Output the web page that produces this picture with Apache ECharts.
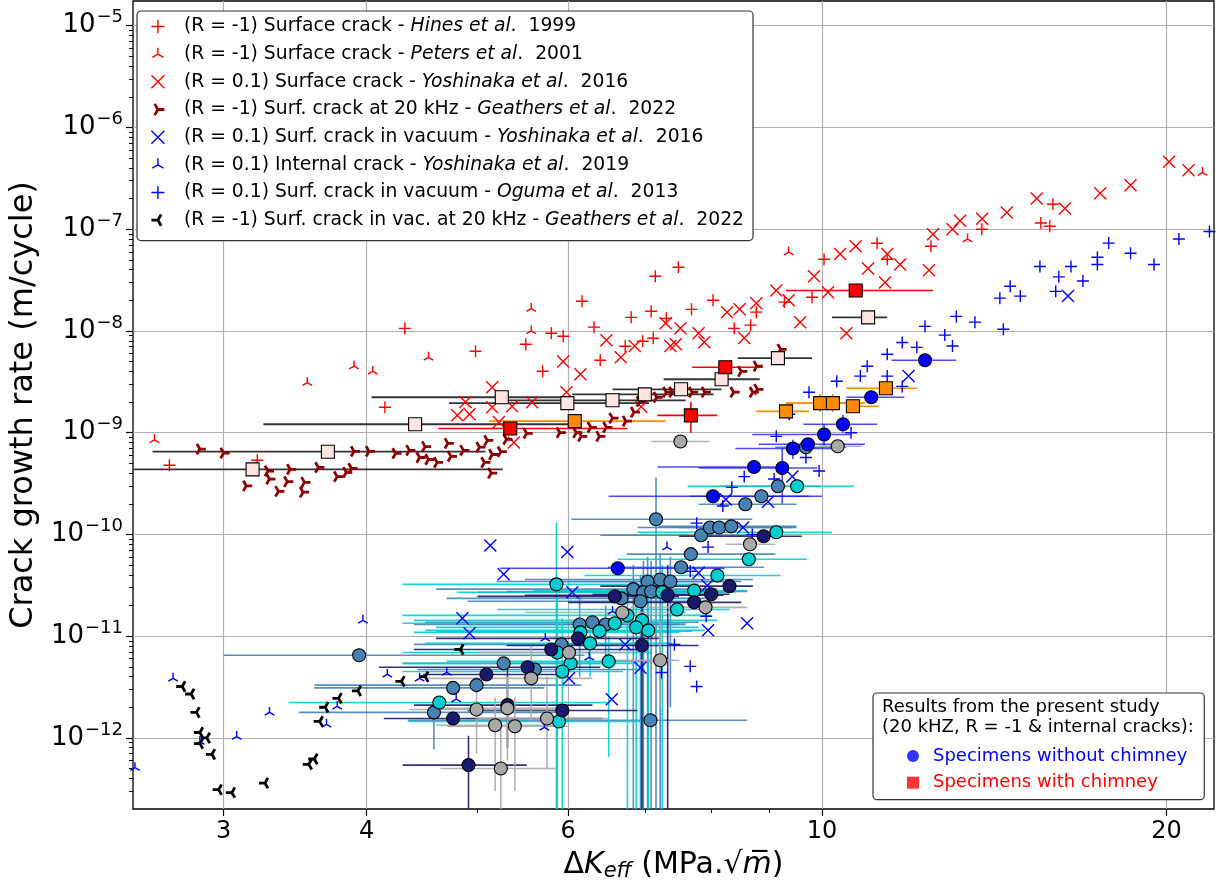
<!DOCTYPE html>
<html><head><meta charset="utf-8">
<script src="https://cdn.jsdelivr.net/npm/echarts@6/dist/echarts.min.js"></script>
<style>html,body{margin:0;padding:0;background:#fff}#c{width:1221px;height:888px}</style>
</head><body><div id="c"></div>
<script>
// ---------------- axis ranges / ticks ----------------
const X_MIN = 2.5, X_MAX = 22, Y_MIN = 2e-13, Y_MAX = 1.75e-5;
const xMajorTicks = [3, 4, 6, 10, 20];
const xMinorTicks = [5, 7, 8, 9];
const yMajorTicks = [1e-12, 1e-11, 1e-10, 1e-9, 1e-8, 1e-7, 1e-6, 1e-5];

// ---------------- literature data [dK, da/dN] ----------------
const hines1999 = [[2.69,4.78e-10],[3.21,5.35e-10],[4.15,1.78e-9],[4.32,1.06e-8],[4.98,6.32e-9],[5.51,7.4e-9],[5.7,4.01e-9],[5.8,9.49e-9],[5.94,8.87e-9],[6.17,1.96e-8],[6.32,1.09e-8],[6.4,5.15e-9],[6.73,7.07e-9],[6.81,1.36e-8],[6.97,7.92e-9],[7.09,1.56e-8],[7.12,8.48e-9],[7.15,3.45e-8],[7.31,1.33e-8],[7.49,4.23e-8],[7.69,1.63e-8],[8.03,2.0e-8],[8.38,1.06e-8],[8.66,1.14e-8],[8.76,1.53e-8],[9.27,1.92e-8],[9.8,2.14e-8],[10.04,5.07e-8],[11.17,7.28e-8],[11.4,5.07e-8],[12.45,6.81e-8],[13.79,1.0e-7],[15.53,1.15e-7],[15.81,1.07e-7],[15.91,1.76e-7]];
const peters2001 = [[2.61,8.5e-10],[3.55,3.1e-9],[3.9,4.5e-9],[4.05,4.0e-9],[4.53,5.5e-9],[5.57,1.66e-8],[5.57,1.0e-8],[9.35,5.95e-8],[13.4,8.0e-8],[21.5,3.6e-7]];
const yoshinaka2016 = [[5.15,2.8e-9],[4.88,2.0e-9],[4.8,1.48e-9],[4.92,1.52e-9],[5.15,1.78e-9],[5.22,1.27e-9],[5.36,1.82e-9],[5.58,1.99e-9],[5.98,2.5e-9],[5.94,5.0e-9],[6.15,3.75e-9],[6.48,8.1e-9],[6.67,5.5e-9],[6.86,7.1e-9],[6.95,1.8e-9],[7.3,1.19e-8],[7.37,7.1e-9],[7.45,7.4e-9],[7.52,1.06e-8],[7.8,9.5e-9],[7.89,7.75e-9],[8.26,1.53e-8],[8.47,1.63e-8],[8.55,8.5e-9],[8.76,1.87e-8],[9.12,2.5e-8],[9.35,2.0e-8],[9.57,1.22e-8],[9.84,3.45e-8],[10.12,2.4e-8],[10.37,5.7e-8],[10.7,6.8e-8],[10.97,4.1e-8],[11.35,3.0e-8],[11.4,5.7e-8],[10.5,9.5e-9],[5.38,8.0e-10],[12.5,8.9e-8],[13.0,1.0e-7],[13.2,1.21e-7],[13.8,1.27e-7],[14.5,1.46e-7],[15.4,2.0e-7],[16.3,1.6e-7],[17.5,2.26e-7],[18.6,2.7e-7],[20.1,4.6e-7],[20.9,3.8e-7],[11.7,4.5e-8],[12.4,3.95e-8]];
const geathers2022 = [[2.86,6.9e-10],[3.0,6.3e-10],[3.14,3.0e-10],[3.28,4.2e-10],[3.29,3.5e-10],[3.35,2.65e-10],[3.41,3.3e-10],[3.43,4.36e-10],[3.53,3.25e-10],[3.52,2.6e-10],[3.63,4.55e-10],[3.77,3.7e-10],[3.84,4.08e-10],[3.88,4.45e-10],[3.9,6.55e-10],[4.02,6.55e-10],[4.24,6.25e-10],[4.36,6.7e-10],[4.45,5.7e-10],[4.5,7.3e-10],[4.53,5.45e-10],[4.61,5.1e-10],[4.71,7.85e-10],[4.74,5.85e-10],[4.86,6.7e-10],[5.02,7.2e-10],[5.1,8.4e-10],[5.07,5.1e-10],[5.15,6.1e-10],[5.14,4.0e-10],[5.24,6.5e-10],[5.3,8.6e-10],[5.52,9.85e-10],[5.9,1.0e-9],[6.1,1.0e-9],[6.16,9.2e-10],[6.28,1.13e-9],[6.39,9.2e-10],[6.48,1.13e-9],[6.56,1.39e-9],[6.74,1.3e-9],[6.85,1.59e-9],[6.93,2.03e-9],[7.17,2.23e-9],[7.31,2.5e-9],[7.4,2.5e-9],[7.7,2.5e-9],[7.9,2.5e-9],[8.37,2.5e-9],[8.5,4.0e-9],[8.77,4.5e-9],[8.7,2.5e-9],[8.78,2.67e-9],[9.2,6.6e-9]];
const yoshinaka2016vac = [[5.13,7.8e-11],[5.99,6.7e-11],[5.27,4.05e-11],[6.05,2.7e-11],[4.85,1.5e-11],[4.92,1.07e-11],[6.73,8.3e-12],[6.01,3.85e-12],[6.55,2.4e-12],[6.94,4.9e-12],[9.42,3.7e-10],[8.97,2.1e-10],[8.24,2.2e-10],[8.53,1.17e-10],[7.8,4.2e-11],[7.94,3.15e-11],[8.6,1.34e-11],[7.95,1.14e-11],[16.4,2.2e-8],[11.9,3.6e-9]];
const yoshinaka2019 = [[3.97,1.43e-11],[2.71,3.85e-12],[3.29,1.78e-12],[3.08,1.03e-12],[2.86,9.2e-13],[2.51,5.1e-13],[4.17,4.2e-12],[4.45,3.85e-12],[3.77,2.04e-12],[3.69,1.36e-12],[7.32,7.5e-11],[4.7,4.4e-12],[4.79,2.4e-12],[5.72,1.27e-12],[6.26,6.2e-12],[5.73,9.5e-12],[6.56,1.75e-11]];
const oguma2013 = [[20.5,8.0e-8],[21.8,9.5e-8],[17.8,7.3e-8],[18.6,5.8e-8],[19.5,4.5e-8],[17.4,5.3e-8],[17.4,4.5e-8],[16.9,3.1e-8],[16.5,4.3e-8],[16.1,3.4e-8],[16.0,2.45e-8],[15.5,4.3e-8],[14.9,2.2e-8],[14.6,2.75e-8],[14.3,2.1e-8],[14.4,1.04e-8],[13.6,1.22e-8],[13.1,1.39e-8],[12.8,9.1e-9],[13.0,7.1e-9],[12.3,1.11e-8],[12.1,6.9e-9],[11.75,7.7e-9],[11.4,5.9e-9],[10.95,4.5e-9],[10.8,3.6e-9],[11.4,3.6e-9],[11.75,2.85e-9],[10.3,3.2e-9],[9.74,2.5e-9],[9.36,1.52e-9],[9.12,9.2e-10],[10.6,1.0e-9],[9.68,5.7e-10],[9.94,4.2e-10],[8.55,3.7e-10],[9.08,3.5e-10],[8.34,2.9e-10],[8.19,1.9e-10],[7.77,1.29e-10],[7.95,7.5e-11],[8.69,1.0e-10],[7.67,4.35e-11],[7.92,1.57e-11],[7.43,8.3e-12],[7.67,5.05e-12],[7.24,4.4e-12],[7.77,3.2e-12]];
const geathers2022vac = [[2.76,3.2e-12],[2.81,2.7e-12],[2.84,1.78e-12],[2.86,1.13e-12],[2.9,1.0e-12],[2.86,8.8e-13],[2.93,6.9e-13],[2.97,3.1e-13],[3.05,2.9e-13],[3.26,3.6e-13],[3.56,5.5e-13],[3.6,6.2e-13],[3.64,1.45e-12],[3.68,2.0e-12],[3.78,2.45e-12],[3.93,2.9e-12],[4.29,3.6e-12],[4.5,4.0e-12],[4.83,7.4e-12]];

// ---------------- present study [dK, da/dN, dKlow, dKhigh, dadNlow, dadNhigh] ----------------
const presentBlue = [[12.3,5.15e-9,11.5,13.1,5.15e-9,5.15e-9],[11.04,2.23e-9,10.5,11.8,2.23e-9,2.23e-9],[10.43,1.21e-9,9.63,11.17,1.0e-9,1.5e-9],[10.04,9.6e-10,8.69,10.6,7.5e-10,1.2e-9],[9.72,7.7e-10,8.8,10.9,7.7e-10,7.7e-10],[9.43,7.0e-10,8.4,10.4,5.5e-10,8.5e-10],[8.72,4.6e-10,7.18,9.3,4.6e-10,4.6e-10],[9.23,4.5e-10,7.8,9.9,2.0e-10,7.0e-10],[8.03,2.37e-10,6.51,10.0,2.37e-10,2.37e-10],[6.63,4.65e-11,5.23,8.22,4.65e-11,4.65e-11]];
const presentSteel = [[9.68,7.2e-10,9.1,10.5,7.2e-10,7.2e-10],[9.15,2.97e-10,8.13,9.96,2.97e-10,2.97e-10],[8.85,2.37e-10,7.66,9.74,2.37e-10,2.37e-10],[8.57,1.98e-10,7.8,9.5,1.98e-10,1.98e-10],[7.16,1.41e-10,6.04,8.69,1e-14,3.6e-10],[7.84,9.8e-11,6.4,9.2,9.8e-11,9.8e-11],[7.98,1.17e-10,7.5,9.5,1.17e-10,1.17e-10],[8.13,1.17e-10,6.9,9.4,1.17e-10,1.17e-10],[8.33,1.2e-10,7.2,9.5,1.2e-10,1.2e-10],[7.68,6.4e-11,6.75,9.1,6.4e-11,6.4e-11],[7.53,4.75e-11,6.5,8.9,4.75e-11,4.75e-11],[7.04,3.45e-11,5.2,8.5,1e-14,6e-11],[7.22,3.6e-11,5.5,8.7,1e-14,6.5e-11],[7.37,3.45e-11,5.8,8.4,2e-12,6e-11],[6.84,2.9e-11,4.6,8.1,1e-14,5e-11],[6.98,2.7e-11,5.0,8.3,1e-14,5.5e-11],[7.09,2.75e-11,5.3,8.6,1e-14,5.5e-11],[6.94,2.2e-11,4.9,8.0,1e-14,4e-11],[6.68,2.35e-11,4.7,7.9,2.35e-11,2.35e-11],[6.14,1.3e-11,4.4,7.6,4e-12,2.5e-11],[6.3,1.37e-11,4.5,7.8,1.37e-11,1.37e-11],[6.47,1.3e-11,4.9,7.5,5e-12,2e-11],[5.92,8.3e-12,4.4,7.0,8.3e-12,8.3e-12],[5.27,5.4e-12,4.3,6.5,5.4e-12,5.4e-12],[5.61,4.7e-12,4.43,7.0,4.7e-12,4.7e-12],[4.99,3.3e-12,3.6,6.16,3.3e-12,3.3e-12],[4.76,3.1e-12,3.6,5.72,3.1e-12,3.1e-12],[4.58,1.78e-12,3.49,5.88,7.7e-13,2.2e-12],[7.08,1.49e-12,4.35,8.6,1.49e-12,1.49e-12],[3.94,6.5e-12,3.0,6.2,6.5e-12,6.5e-12]];
const presentTurq = [[9.51,2.97e-10,7.63,10.66,2.97e-10,2.97e-10],[9.12,1.05e-10,6.9,10.2,1.05e-10,1.05e-10],[8.63,5.7e-11,6.63,9.7,5.7e-11,5.7e-11],[8.1,3.95e-11,6.2,9.2,3.95e-11,3.95e-11],[7.73,2.8e-11,5.6,8.6,2.8e-11,2.8e-11],[7.25,2.7e-11,4.8,8.4,1e-14,5e-11],[7.47,1.83e-11,5.2,8.3,1.83e-11,1.83e-11],[6.76,1.6e-11,4.3,8.0,1e-14,3e-11],[6.96,1.43e-11,4.4,8.1,1e-14,3e-11],[6.88,1.22e-11,4.6,7.8,1e-14,2.5e-11],[7.05,1.14e-11,4.5,7.9,1e-14,2.5e-11],[6.59,1.34e-11,4.3,7.6,1.34e-11,1.34e-11],[5.86,3.23e-11,4.3,7.8,1e-14,1.3e-10],[6.15,1.09e-11,4.4,7.5,1.09e-11,1.09e-11],[6.39,1.12e-11,4.6,7.7,1.12e-11,1.12e-11],[6.27,8.5e-12,4.5,7.4,4e-12,1.5e-11],[5.87,6.9e-12,4.3,7.1,1e-14,2.5e-11],[6.51,5.65e-12,4.7,7.3,6.5e-13,1.0e-11],[6.03,5.4e-12,4.3,6.9,5.4e-12,5.4e-12],[5.93,4.5e-12,4.3,6.7,1e-14,1.5e-11],[4.63,2.23e-12,3.42,6.49,2.23e-12,2.23e-12],[5.89,1.45e-12,4.35,7.06,1.45e-12,1.45e-12]];
const presentNavy = [[8.89,9.6e-11,7.5,9.6,9.6e-11,9.6e-11],[8.3,3.1e-11,6.4,8.7,3.1e-11,3.1e-11],[8.0,2.58e-11,6.3,8.3,2.58e-11,2.58e-11],[7.73,2.15e-11,6.0,8.5,2.15e-11,2.15e-11],[7.33,2.52e-11,5.5,8.2,1e-14,5e-11],[6.59,2.46e-11,5.0,7.5,2.46e-11,2.46e-11],[6.12,9.5e-12,4.6,7.2,9.5e-12,9.5e-12],[6.96,8.1e-12,5.3,7.8,1e-14,2e-11],[5.8,7.4e-12,4.4,7.0,7.4e-12,7.4e-12],[5.53,4.95e-12,4.1,6.4,4.95e-12,4.95e-12],[5.09,4.2e-12,4.48,6.0,4.2e-12,4.2e-12],[5.31,2.1e-12,4.4,6.3,8e-13,5e-12],[5.93,1.86e-12,4.9,6.9,1.86e-12,1.86e-12],[4.76,1.55e-12,4.14,6.43,1.55e-12,1.55e-12],[4.91,5.4e-13,4.3,5.52,1e-14,1.05e-12]];
const presentGray = [[7.52,8.2e-10,7.09,7.97,8.2e-10,8.2e-10],[10.32,7.35e-10,9.94,10.83,7.35e-10,7.35e-10],[8.65,8.0e-11,8.24,9.1,8.0e-11,8.0e-11],[7.91,1.92e-11,6.8,8.6,1.92e-11,1.92e-11],[6.69,1.71e-11,5.5,7.6,1.71e-11,1.71e-11],[7.22,5.8e-12,6.6,7.5,2e-12,1.4e-11],[6.01,6.9e-12,5.0,6.8,6.9e-12,6.9e-12],[5.57,3.85e-12,4.5,6.3,1.5e-12,8e-12],[4.99,1.9e-12,4.36,5.85,7e-13,4e-12],[5.31,1.95e-12,4.6,6.0,6e-13,4e-12],[5.18,1.33e-12,4.6,5.9,3e-13,2.5e-12],[5.39,1.3e-12,4.7,6.0,3e-13,2.5e-12],[5.75,1.55e-12,5.0,6.5,5e-13,4e-12],[5.24,5.0e-13,4.64,5.85,1e-14,1.3e-12]];
const presentPink = [[3.18,4.36e-10,2.5,5.26,4.36e-10,4.36e-10],[3.7,6.5e-10,2.6,5.08,6.5e-10,6.5e-10],[4.41,1.21e-9,3.25,6.0,1.21e-9,1.21e-9],[5.25,2.23e-9,4.04,5.99,2.23e-9,2.23e-9],[5.99,1.95e-9,4.72,7.06,1.95e-9,1.95e-9],[6.56,2.08e-9,5.22,7.6,2.08e-9,2.08e-9],[7.0,2.38e-9,6.05,8.04,2.38e-9,2.38e-9],[7.53,2.67e-9,6.56,8.17,2.67e-9,2.67e-9],[8.17,3.35e-9,7.27,8.82,3.35e-9,3.35e-9],[9.15,5.4e-9,8.44,9.8,5.4e-9,5.4e-9],[10.97,1.36e-8,10.2,11.4,1.36e-8,1.36e-8]];
const presentRed = [[5.34,1.1e-9,4.62,6.76,1.1e-9,1.1e-9],[8.23,4.4e-9,7.7,8.87,4.4e-9,4.4e-9],[7.68,1.48e-9,7.18,8.1,1.0e-9,2.0e-9],[10.7,2.5e-8,9.3,12.5,2.5e-8,2.5e-8]];
const presentOrange = [[6.08,1.3e-9,5.12,7.3,1.3e-9,1.3e-9],[9.3,1.62e-9,8.76,9.74,1.62e-9,1.62e-9],[9.96,1.95e-9,9.3,10.7,1.6e-9,2.4e-9],[10.22,1.95e-9,9.6,10.9,1.6e-9,2.4e-9],[10.64,1.82e-9,10.5,11.2,1.82e-9,1.82e-9],[11.37,2.73e-9,10.5,12.1,2.73e-9,2.73e-9]];

// ---------------- legend texts ----------------
const litLegend = [
  ['(R = -1) Surface crack - ', 'Hines et al', '.  1999'],
  ['(R = -1) Surface crack - ', 'Peters et al', '.  2001'],
  ['(R = 0.1) Surface crack - ', 'Yoshinaka et al', '.  2016'],
  ['(R = -1) Surf. crack at 20 kHz - ', 'Geathers et al', '.  2022'],
  ['(R = 0.1) Surf. crack in vacuum - ', 'Yoshinaka et al', '.  2016'],
  ['(R = 0.1) Internal crack - ', 'Yoshinaka et al', '.  2019'],
  ['(R = 0.1) Surf. crack in vacuum - ', 'Oguma et al', '.  2013'],
  ['(R = -1) Surf. crack in vac. at 20 kHz - ', 'Geathers et al', '.  2022']
];
const presentTitle = ['Results from the present study', '(20 kHZ, R = -1 & internal cracks):'];
const presentLegend = ['Specimens without chimney', 'Specimens with chimney'];

// ---------------- drawing ----------------
const FONT = 'DejaVu Sans';
const PLUS = 'path://M-1,0L1,0M0,-1L0,1';
const CROSS = 'path://M-1,-1L1,1M-1,1L1,-1';
const TRI_UP = 'path://M0,0L0,-1M0,0L-0.866,0.5M0,0L0.866,0.5M-1,1L-1,1M1,-1L1,-1';
const TRI_RIGHT = 'path://M0,0L1,0M0,0L-0.5,-0.866M0,0L-0.5,0.866M-1,-1L-1,-1M1,1L1,1';
const TRI_LEFT = 'path://M0,0L-1,0M0,0L0.5,-0.866M0,0L0.5,0.866M-1,-1L-1,-1M1,1L1,1';

const litSpecs = [
  [hines1999, PLUS, '#ff0000', 12, 1.4],
  [peters2001, TRI_UP, '#ff0000', 11, 1.4],
  [yoshinaka2016, CROSS, '#ff0000', 12, 1.4],
  [geathers2022, TRI_RIGHT, '#8b0000', 12, 2.8],
  [yoshinaka2016vac, CROSS, '#0000ff', 12, 1.4],
  [yoshinaka2019, TRI_UP, '#0000ff', 11, 1.4],
  [oguma2013, PLUS, '#0000ff', 12, 1.4],
  [geathers2022vac, TRI_LEFT, '#000000', 12, 2.8]
];
const litNames = litLegend.map(l => l.join(''));

function errSeries(data, color, lw, op) {
  return {
    type: 'custom', data: data, z: 1, silent: true, xAxisIndex: 0, yAxisIndex: 0,
    encode: {x: 0, y: 1},
    renderItem: function (params, api) {
      const x = api.value(0), y = api.value(1);
      const xlo = Math.max(api.value(2), X_MIN), xhi = Math.min(api.value(3), X_MAX);
      const ylo = Math.max(api.value(4), Y_MIN), yhi = Math.min(api.value(5), Y_MAX);
      const ch = [];
      const st = {stroke: color, lineWidth: lw, opacity: op};
      if (xhi > xlo) {
        const a = api.coord([xlo, y]), b = api.coord([xhi, y]);
        ch.push({type: 'line', shape: {x1: a[0], y1: a[1], x2: b[0], y2: b[1]}, style: st});
      }
      if (yhi > ylo) {
        const a = api.coord([x, ylo]), b = api.coord([x, yhi]);
        ch.push({type: 'line', shape: {x1: a[0], y1: a[1], x2: b[0], y2: b[1]}, style: st});
      }
      return {type: 'group', children: ch};
    }
  };
}
function markSeries(data, symbol, fill, size, z) {
  return {
    type: 'scatter', data: data.map(d => [d[0], d[1]]), symbol: symbol, symbolSize: size,
    xAxisIndex: 0, yAxisIndex: 0, z: z, silent: true,
    itemStyle: {color: fill, borderColor: '#000', borderWidth: 1.1, opacity: 1}
  };
}

const series = [];
const present = [
  [presentSteel, '#4682b4', 'circle', 1.6, 0.9],
  [presentTurq, '#00ced1', 'circle', 1.6, 0.9],
  [presentNavy, '#191970', 'circle', 1.6, 0.9],
  [presentGray, '#a9a9a9', 'circle', 1.6, 0.9],
  [presentBlue, '#0000ff', 'circle', 1.6, 0.7],
  [presentPink, '#ffe4e1', 'rect', 1.8, 1],
  [presentOrange, '#ff8c00', 'rect', 1.6, 1],
  [presentRed, '#ff0000', 'rect', 1.6, 1]
];
present.forEach(p => {
  const barColor = p[1] === '#ffe4e1' ? '#333333' : p[1];
  series.push(errSeries(p[0], barColor, p[3], p[4]));
});
litSpecs.forEach((s, i) => {
  series.push({
    type: 'scatter', name: litNames[i], data: s[0], symbol: s[1], symbolSize: s[3], symbolKeepAspect: true,
    xAxisIndex: 0, yAxisIndex: 0, z: 3, silent: true,
    itemStyle: {color: 'rgba(0,0,0,0)', borderColor: s[2], borderWidth: s[4], opacity: 1}
  });
});
present.forEach((p, i) => series.push(markSeries(p[0], p[2], p[1], 13, 4 + i)));
series.push({type: 'scatter', name: presentLegend[0], data: [], symbol: 'circle', itemStyle: {color: '#0000ff'}, xAxisIndex: 0, yAxisIndex: 0});
series.push({type: 'scatter', name: presentLegend[1], data: [], symbol: 'rect', itemStyle: {color: '#ff0000'}, xAxisIndex: 0, yAxisIndex: 0});

const yMinor = [];
for (let k = -13; k <= -5; k++) for (let m = 2; m <= 9; m++) {
  const v = m * Math.pow(10, k);
  if (v > Y_MIN && v < Y_MAX) yMinor.push(v);
}

const chart = echarts.init(document.getElementById('c'), null, {renderer: 'canvas'});
chart.setOption({
  animation: false,
  backgroundColor: '#fff',
  textStyle: {fontFamily: FONT},
  grid: {left: 133, right: 7, top: 1, bottom: 79, show: true, borderColor: '#000', borderWidth: 1.3, backgroundColor: 'transparent'},
  xAxis: [{
    type: 'log', min: X_MIN, max: X_MAX, position: 'bottom',
    axisLine: {show: false},
    axisTick: {show: true, customValues: xMajorTicks, length: 7, lineStyle: {color: '#000', width: 1.2}},
    axisLabel: {customValues: xMajorTicks, formatter: v => String(Math.round(v)), fontSize: 24, color: '#000', margin: 11, fontFamily: FONT},
    splitLine: {show: true, lineStyle: {color: '#b0b0b0', width: 1.2}},
    name: '{d|Δ}{k|K}{e|eff}{t| (MPa.√}{m|m\u0305}{t|)}', nameLocation: 'middle', nameGap: 40,
    nameTextStyle: {color: '#000', fontFamily: FONT, fontSize: 30, rich: {
      d: {fontSize: 30, fontFamily: FONT}, k: {fontSize: 30, fontStyle: 'italic', fontFamily: FONT},
      e: {fontSize: 21, fontStyle: 'italic', fontFamily: FONT, padding: [12, 0, 0, 0]},
      t: {fontSize: 30, fontFamily: FONT}, m: {fontSize: 30, fontStyle: 'italic', fontFamily: FONT}}}
  }, {
    type: 'log', min: X_MIN, max: X_MAX, position: 'bottom', gridIndex: 0,
    axisLine: {show: false},
    axisTick: {show: true, customValues: xMinorTicks, length: 4, lineStyle: {color: '#000', width: 1}},
    axisLabel: {show: false}, splitLine: {show: false}
  }],
  yAxis: [{
    type: 'log', min: Y_MIN, max: Y_MAX, position: 'left',
    axisLine: {show: false},
    axisTick: {show: true, customValues: yMajorTicks, length: 7, lineStyle: {color: '#000', width: 1.2}},
    axisLabel: {customValues: yMajorTicks, margin: 10, color: '#000',
      formatter: v => '{b|10}{s|\u2212' + Math.round(-Math.log10(v)) + '}',
      rich: {b: {fontSize: 26, fontFamily: FONT, color: '#000'}, s: {fontSize: 18, fontFamily: FONT, color: '#000', padding: [0, 0, 16, 1]}}},
    splitLine: {show: true, lineStyle: {color: '#b0b0b0', width: 1.2}},
    name: 'Crack growth rate (m/cycle)', nameLocation: 'middle', nameRotate: 90, nameGap: 76,
    nameTextStyle: {color: '#000', fontSize: 32, fontFamily: FONT}
  }, {
    type: 'log', min: Y_MIN, max: Y_MAX, position: 'left', gridIndex: 0,
    axisLine: {show: false},
    axisTick: {show: true, customValues: yMinor, length: 4, lineStyle: {color: '#000', width: 1}},
    axisLabel: {show: false}, splitLine: {show: false}
  }],
  legend: [{
    orient: 'vertical', left: 137, top: 11,
    data: litNames.map((n, i) => ({name: n, itemStyle: {color: 'rgba(0,0,0,0)', borderColor: litSpecs[i][2], borderWidth: litSpecs[i][4]}})),
    itemWidth: 30, itemHeight: 13, itemGap: 8.66, symbolKeepAspect: true,
    padding: [6, 9, 11, 13], backgroundColor: '#fff', borderColor: '#333', borderWidth: 1.2, borderRadius: 4,
    selectedMode: false,
    formatter: function (name) {
      const l = litLegend[litNames.indexOf(name)];
      return '{sp|}{n|' + l[0] + '}{i|' + l[1] + '}{n|' + l[2] + '}';
    },
    textStyle: {fontSize: 18.75, lineHeight: 18, color: '#000', fontFamily: FONT, rich: {
      sp: {width: 6}, n: {fontSize: 18.75, fontFamily: FONT, color: '#000'},
      i: {fontSize: 18.75, fontFamily: FONT, fontStyle: 'italic', color: '#000'}}}
  }, {
    orient: 'vertical', left: 873, top: 693,
    data: [{name: presentLegend[0], textStyle: {color: '#0000ff'}}, {name: presentLegend[1], textStyle: {color: '#ff0000'}}],
    itemWidth: 12, itemHeight: 12, itemGap: 8.7,
    padding: [54, 17, 8, 34], backgroundColor: '#fff', borderColor: '#333', borderWidth: 1.2, borderRadius: 4,
    selectedMode: false,
    formatter: n => '{sp|}' + n,
    textStyle: {fontSize: 18, lineHeight: 18, fontFamily: FONT, rich: {sp: {width: 9}}}
  }],
  graphic: [
    {type: 'text', left: 882, top: 698, z: 100, style: {text: presentTitle[0], font: '18px "DejaVu Sans"', fill: '#000'}},
    {type: 'text', left: 882, top: 718, z: 100, style: {text: presentTitle[1], font: '18px "DejaVu Sans"', fill: '#000'}}
  ],
  series: series
});
</script></body></html>
